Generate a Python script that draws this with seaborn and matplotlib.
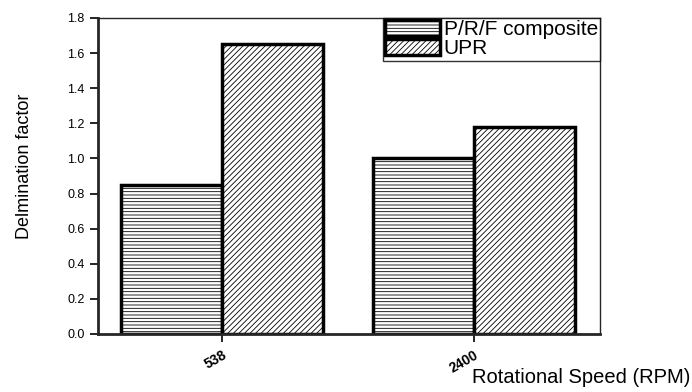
import pandas as pd
import matplotlib
matplotlib.use("Agg")
import matplotlib.pyplot as plt
import seaborn as sns
from matplotlib.patches import Patch

# Values
speeds = ["538", "2400"]
materials = ["P/R/F composite", "UPR"]
prf_values = [0.85, 1.0]
upr_values = [1.65, 1.18]

df = pd.DataFrame({
    "speed": speeds * 2,
    "material": [materials[0]] * 2 + [materials[1]] * 2,
    "delam": prf_values + upr_values,
})

sns.set_style("ticks")
plt.rcParams["font.family"] = ["Liberation Sans", "DejaVu Sans"]
plt.rcParams["hatch.linewidth"] = 0.6
plt.rcParams["text.color"] = "black"
plt.rcParams["axes.labelcolor"] = "black"
plt.rcParams["xtick.color"] = "black"
plt.rcParams["ytick.color"] = "black"

fig = plt.figure(figsize=(6.92, 3.92), dpi=100)
ax = fig.add_axes([98 / 692, 1 - 334 / 392, (600 - 98) / 692, (334 - 18) / 392])

sns.barplot(data=df, x="speed", y="delam", hue="material", order=speeds,
            hue_order=materials, palette=["white", "white"], width=0.8,
            edgecolor="black", linewidth=2.5, saturation=1, ax=ax, legend=False)

hatches = {materials[0]: "-----", materials[1]: "//////"}
for container, mat in zip(ax.containers, materials):
    for bar in container:
        bar.set_hatch(hatches[mat])

ax.set_xlim(-0.492, 1.5)
ax.set_ylim(0, 1.8)
ax.set_yticks([0.0, 0.2, 0.4, 0.6, 0.8, 1.0, 1.2, 1.4, 1.6, 1.8])
ax.set_yticklabels([f"{v:.1f}" for v in ax.get_yticks()], fontsize=9)
ax.set_xticks([0, 1])
ax.set_xticklabels(speeds, fontsize=10, fontweight="bold", rotation=30,
                   ha="right", rotation_mode="anchor")

for side in ["left", "bottom"]:
    ax.spines[side].set_linewidth(2)
for side in ["top", "right"]:
    ax.spines[side].set_visible(True)
    ax.spines[side].set_linewidth(1)
ax.tick_params(axis="both", direction="out", length=6, width=1.2, color="black")
ax.tick_params(axis="x", pad=4)

ax.set_ylabel("Delmination factor", fontsize=13,
              family=["Liberation Sans Narrow", "Liberation Sans", "DejaVu Sans"])
ax.yaxis.set_label_coords(-0.13, 0.53)
ax.set_xlabel("Rotational Speed (RPM)", fontsize=14.5)
ax.xaxis.set_label_coords(1.18, -0.108)
ax.xaxis.label.set_ha("right")

handles = [Patch(facecolor="white", edgecolor="black", linewidth=2.5, hatch=hatches[m])
           for m in materials]
leg = ax.legend(handles, materials, loc="upper right", fontsize=15,
                frameon=True, fancybox=False, borderaxespad=0, handlelength=2.6,
                handleheight=0.8, handletextpad=0.2, labelspacing=0.0,
                borderpad=0.1)
leg.get_frame().set_edgecolor("black")
leg.get_frame().set_linewidth(1)

fig.savefig("out.png", dpi=100)
